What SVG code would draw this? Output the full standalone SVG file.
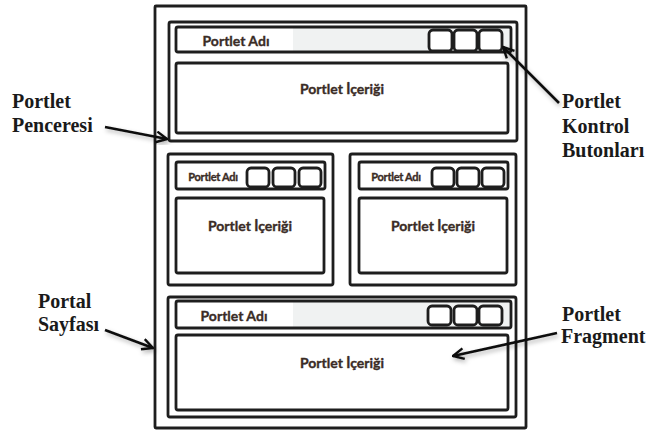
<svg xmlns="http://www.w3.org/2000/svg" width="647" height="432" viewBox="0 0 647 432">
<defs>
<style>
.frame{fill:#fff;stroke:#1e1e1e;stroke-width:2.8}
.bar{stroke:#1e1e1e;stroke-width:2.8}
.btn{fill:#fff;stroke:#1e1e1e;stroke-width:2.8}
.t{font-family:Lato,"Liberation Sans",sans-serif;font-weight:bold;fill:#3a2c26;stroke:#3a2c26;stroke-width:0.35;text-anchor:middle}
.lbl{font-family:"Liberation Serif","Times New Roman",serif;font-weight:bold;font-size:20px;fill:#1a1a1a}
.arr{fill:none;stroke:#111;stroke-width:2.6;marker-end:url(#ah);filter:url(#sh)}
</style>
<linearGradient id="tb" x1="0" x2="1" y1="0" y2="0">
<stop offset="0" stop-color="#fff"/><stop offset="0.35" stop-color="#fff"/><stop offset="0.35" stop-color="#f0f2f2"/><stop offset="1" stop-color="#f0f2f2"/>
</linearGradient>
<marker id="ah" viewBox="0 0 12 12" refX="11" refY="6" markerWidth="5" markerHeight="5" orient="auto" markerUnits="strokeWidth">
<path d="M1,1 L11,6 L1,11" fill="none" stroke="#111" stroke-width="2.2"/>
</marker>
<filter id="sh" x="-20%" y="-50%" width="140%" height="200%">
<feDropShadow dx="1.5" dy="2.5" stdDeviation="2" flood-color="#000" flood-opacity="0.3"/>
</filter>
</defs>

<g id="portal-page">
<rect class="frame" x="155" y="6" width="371" height="422" rx="1"/>
</g>

<g id="window-top">
<rect class="frame" x="169" y="22" width="348" height="119" rx="2"/>
<rect class="bar" fill="url(#tb)" x="176" y="27" width="335" height="25" rx="2"/>
<rect class="btn" x="429" y="30" width="23" height="21" rx="4"/>
<rect class="btn" x="454" y="30" width="23" height="21" rx="4"/>
<rect class="btn" x="479" y="30" width="23" height="21" rx="4"/>
<text class="t" x="236" y="46" font-size="14">Portlet Adı</text>
<rect class="frame" x="176" y="63" width="332" height="70" rx="2"/>
<text class="t" x="342" y="94" font-size="14">Portlet İçeriği</text>
</g>

<g id="window-left">
<rect class="frame" x="168" y="154" width="165" height="131" rx="2"/>
<rect class="bar" fill="#fff" x="176" y="162" width="149" height="27" rx="2"/>
<rect class="btn" x="247" y="168" width="22" height="19" rx="4"/>
<rect class="btn" x="273" y="168" width="22" height="19" rx="4"/>
<rect class="btn" x="299" y="168" width="22" height="19" rx="4"/>
<text class="t" x="213" y="181" font-size="11" letter-spacing="-0.3">Portlet Adı</text>
<rect class="frame" x="176" y="198" width="148" height="75" rx="2"/>
<text class="t" x="250" y="231" font-size="14">Portlet İçeriği</text>
</g>

<g id="window-right">
<rect class="frame" x="350" y="154" width="166" height="131" rx="2"/>
<rect class="bar" fill="#fff" x="359" y="162" width="149" height="27" rx="2"/>
<rect class="btn" x="432" y="168" width="22" height="19" rx="4"/>
<rect class="btn" x="457" y="168" width="22" height="19" rx="4"/>
<rect class="btn" x="482" y="168" width="22" height="19" rx="4"/>
<text class="t" x="396" y="181" font-size="11" letter-spacing="-0.3">Portlet Adı</text>
<rect class="frame" x="359" y="198" width="148" height="75" rx="2"/>
<text class="t" x="433" y="231" font-size="14">Portlet İçeriği</text>
</g>

<g id="window-bottom">
<rect class="frame" x="168" y="297" width="348" height="120" rx="2"/>
<rect class="bar" fill="url(#tb)" x="176" y="301" width="335" height="27" rx="2"/>
<rect class="btn" x="428" y="306" width="23" height="19" rx="4"/>
<rect class="btn" x="454" y="306" width="23" height="19" rx="4"/>
<rect class="btn" x="479" y="306" width="23" height="19" rx="4"/>
<text class="t" x="234" y="321" font-size="14">Portlet Adı</text>
<rect class="frame" x="176" y="335" width="332" height="75" rx="2"/>
<text class="t" x="342" y="368" font-size="14">Portlet İçeriği</text>
</g>

<g id="label-penceresi">
<text class="lbl" x="12" y="108">Portlet</text>
<text class="lbl" x="12" y="132">Penceresi</text>
</g>
<g id="label-sayfasi">
<text class="lbl" x="38" y="308">Portal</text>
<text class="lbl" x="38" y="331">Sayfası</text>
</g>
<g id="label-kontrol">
<text class="lbl" x="562" y="108">Portlet</text>
<text class="lbl" x="562" y="133">Kontrol</text>
<text class="lbl" x="562" y="157">Butonları</text>
</g>
<g id="label-fragment">
<text class="lbl" x="562" y="321">Portlet</text>
<text class="lbl" x="561" y="343">Fragment</text>
</g>

<g id="connectors">
<path class="arr" d="M105,127 L167,139"/>
<path class="arr" d="M105,330 L153,348"/>
<path class="arr" d="M559,103 L503,47"/>
<path class="arr" d="M557,333 L453,356"/>
</g>
</svg>
